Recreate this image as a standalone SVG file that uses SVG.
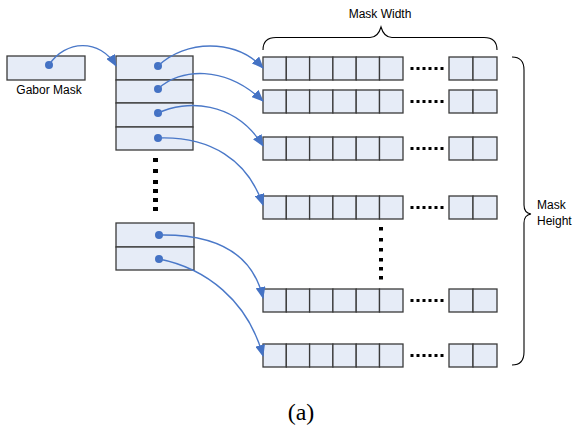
<svg xmlns="http://www.w3.org/2000/svg" width="573" height="433" viewBox="0 0 573 433">
  <defs>
    <style>
      .box { fill: #e6ecf7; stroke: #3a3a3a; stroke-width: 1.3; }
      .dot { fill: #4472c4; }
      .link { fill: none; stroke: #4a78c8; stroke-width: 1.4; }
      .brace { fill: none; stroke: #000; stroke-width: 1.1; }
      .sq { fill: #000; }
      .lbl { font-family: "Liberation Sans", Arial, sans-serif; font-size: 12px; fill: #000; }
      .cap { font-family: "Liberation Serif", "Times New Roman", serif; font-size: 24px; fill: #000; }
    </style>
    <marker id="arrow" viewBox="0 0 12 10" refX="11" refY="5" markerWidth="12" markerHeight="10" markerUnits="userSpaceOnUse" orient="auto">
      <path d="M0,0 L12,5 L0,10 z" fill="#4472c4"/>
    </marker>
    <!-- one row of the mask: six cells, an ellipsis, two end cells -->
    <g id="row">
      <rect class="box" x="263" y="0" width="23.3" height="23"/>
      <rect class="box" x="286.3" y="0" width="23.3" height="23"/>
      <rect class="box" x="309.6" y="0" width="23.3" height="23"/>
      <rect class="box" x="332.9" y="0" width="23.3" height="23"/>
      <rect class="box" x="356.2" y="0" width="23.3" height="23"/>
      <rect class="box" x="379.5" y="0" width="23.5" height="23"/>
      <rect class="sq" x="410.5" y="10" width="3" height="3"/>
      <rect class="sq" x="416.5" y="10" width="3" height="3"/>
      <rect class="sq" x="422.5" y="10" width="3" height="3"/>
      <rect class="sq" x="428.5" y="10" width="3" height="3"/>
      <rect class="sq" x="434.5" y="10" width="3" height="3"/>
      <rect class="sq" x="440.5" y="10" width="3" height="3"/>
      <rect class="box" x="449" y="0" width="24" height="23"/>
      <rect class="box" x="473" y="0" width="24" height="23"/>
    </g>
  </defs>
  <rect width="573" height="433" fill="#fff"/>

  <!-- source mask -->
  <g id="gabor-mask">
    <rect class="box" x="7" y="56" width="78" height="24"/>
    <circle class="dot" cx="49" cy="65" r="4"/>
    <text class="lbl" x="49" y="94" text-anchor="middle" font-size="11">Gabor Mask</text>
  </g>

  <!-- pointer table, upper part -->
  <g id="pointer-table-top">
    <rect class="box" x="116" y="56" width="77" height="24"/>
    <rect class="box" x="116" y="80" width="77" height="23"/>
    <rect class="box" x="116" y="103" width="77" height="24"/>
    <rect class="box" x="116" y="127" width="77" height="23"/>
    <circle class="dot" cx="158" cy="66" r="4"/>
    <circle class="dot" cx="158" cy="89" r="4"/>
    <circle class="dot" cx="158" cy="113" r="4"/>
    <circle class="dot" cx="158" cy="138" r="4"/>
  </g>

  <!-- vertical ellipsis in the pointer table -->
  <g id="table-ellipsis">
    <rect class="sq" x="153" y="158" width="5" height="4"/>
    <rect class="sq" x="153" y="169" width="5" height="4"/>
    <rect class="sq" x="153" y="180" width="5" height="4"/>
    <rect class="sq" x="153" y="189" width="5" height="4"/>
    <rect class="sq" x="153" y="198" width="5" height="4"/>
    <rect class="sq" x="153" y="207" width="5" height="4"/>
  </g>

  <!-- pointer table, lower part -->
  <g id="pointer-table-bottom">
    <rect class="box" x="116" y="223" width="78" height="24"/>
    <rect class="box" x="116" y="247" width="78" height="23"/>
    <circle class="dot" cx="159" cy="235" r="4"/>
    <circle class="dot" cx="159" cy="259" r="4"/>
  </g>

  <!-- mask rows -->
  <g id="row-1"><use href="#row" y="57"/></g>
  <g id="row-2"><use href="#row" y="90"/></g>
  <g id="row-3"><use href="#row" y="137"/></g>
  <g id="row-4"><use href="#row" y="196"/></g>
  <g id="row-5"><use href="#row" y="289"/></g>
  <g id="row-6"><use href="#row" y="344"/></g>

  <!-- vertical ellipsis between rows -->
  <g id="row-ellipsis">
    <rect class="sq" x="379" y="227" width="4" height="3.5"/>
    <rect class="sq" x="379" y="238" width="4" height="3.5"/>
    <rect class="sq" x="379" y="248" width="4" height="3.5"/>
    <rect class="sq" x="379" y="258" width="4" height="3.5"/>
    <rect class="sq" x="379" y="267" width="4" height="3.5"/>
    <rect class="sq" x="379" y="276" width="4" height="3.5"/>
  </g>

  <!-- dimension braces -->
  <g id="mask-width">
    <path class="brace" d="M263,50 Q263,37.5 276,37.5 L370,37.5 Q378,37.5 381,27 Q384,37.5 392,37.5 L484,37.5 Q497,37.5 497,50"/>
    <text class="lbl" x="380" y="18" text-anchor="middle">Mask Width</text>
  </g>
  <g id="mask-height">
    <path class="brace" d="M512,57 Q524,57 524,70 L524,205 Q524,213 531,214 Q524,215 524,223 L524,352 Q524,365 512,365"/>
    <text class="lbl" x="537" y="209">Mask</text>
    <text class="lbl" x="537" y="225">Height</text>
  </g>

  <!-- pointer connectors -->
  <g id="connectors">
    <path class="link" marker-end="url(#arrow)" d="M49,65 C65,40 100,38 116,66"/>
    <path class="link" marker-end="url(#arrow)" d="M158,66 C185,40 235,38 263,68"/>
    <path class="link" marker-end="url(#arrow)" d="M158,89 C180,68 225,65 263,101"/>
    <path class="link" marker-end="url(#arrow)" d="M158,113 C185,100 235,100 263,146"/>
    <path class="link" marker-end="url(#arrow)" d="M158,138 C210,136 248,160 263,205"/>
    <path class="link" marker-end="url(#arrow)" d="M159,235 C212,234 252,250 263,298"/>
    <path class="link" marker-end="url(#arrow)" d="M159,259 C205,268 248,300 263,356"/>
  </g>

  <text class="cap" x="301" y="420" text-anchor="middle">(a)</text>
</svg>
